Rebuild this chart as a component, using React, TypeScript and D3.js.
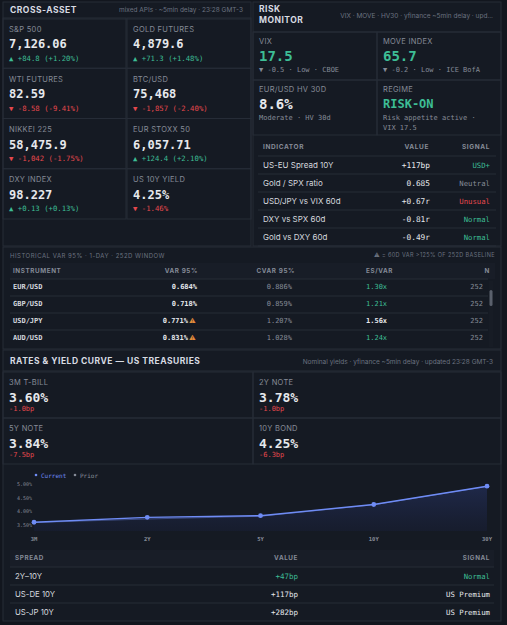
import React from "react";
import * as d3 from "d3";

const MONO = "'DejaVu Sans Mono', monospace";
const SANS = "Inter, 'Noto Sans', sans-serif";

const BG = "#12161e";
const CELL = "#151a23";
const LINE = "#262c37";
const WHITE = "#e6e8ec";
const GRAY = "#858b97";
const DIM = "#6b7280";
const GREEN = "#3dbd95";
const RED = "#e5484d";
const BLUE = "#6f8cf5";

// cross-asset tiles
const crossLabels = ["S&P 500", "GOLD FUTURES", "WTI FUTURES", "BTC/USD", "NIKKEI 225", "EUR STOXX 50", "DXY INDEX", "US 10Y YIELD"];
const crossValues = ["7,126.06", "4,879.6", "82.59", "75,468", "58,475.9", "6,057.71", "98.227", "4.25%"];
const crossChanges = ["+84.8 (+1.20%)", "+71.3 (+1.48%)", "-8.58 (-9.41%)", "-1,857 (-2.40%)", "-1,042 (-1.75%)", "+124.4 (+2.10%)", "+0.13 (+0.13%)", "-1.46%"];

// risk monitor tiles
const riskLabels = ["VIX", "MOVE INDEX", "EUR/USD HV 30D", "REGIME"];
const riskValues = ["17.5", "65.7", "8.6%", "RISK-ON"];
const riskSubs = [["▼ -0.5 · Low · CBOE"], ["▼ -0.2 · Low · ICE BofA"], ["Moderate · HV 30d"], ["Risk appetite active ·", "VIX 17.5"]];

// indicator table
const indNames = ["US-EU Spread 10Y", "Gold / SPX ratio", "USD/JPY vs VIX 60d", "DXY vs SPX 60d", "Gold vs DXY 60d"];
const indValues = ["+117bp", "0.685", "+0.67r", "-0.81r", "-0.49r"];
const indSignals = ["USD+", "Neutral", "Unusual", "Normal", "Normal"];

// VaR table
const varInstruments = ["EUR/USD", "GBP/USD", "USD/JPY", "AUD/USD"];
const varValues = ["0.684%", "0.718%", "0.771%", "0.831%"];
const varWarn = [false, false, true, true];
const cvarValues = ["0.886%", "0.859%", "1.207%", "1.028%"];
const esVar = ["1.30x", "1.21x", "1.56x", "1.24x"];
const varN = [252, 252, 252, 252];

// treasuries
const tsyLabels = ["3M T-BILL", "2Y NOTE", "5Y NOTE", "10Y BOND"];
const tsyValues = ["3.60%", "3.78%", "3.84%", "4.25%"];
const tsyChanges = ["-1.0bp", "-1.0bp", "-7.5bp", "-6.3bp"];

// yield curve
const tenors = ["3M", "2Y", "5Y", "10Y", "30Y"];
const curveCurrent = [3.6, 3.78, 3.84, 4.25, 4.92];
const curvePrior = [3.59, 3.72, 3.82, 4.24, 4.91];
const yTicks = [3.5, 4.0, 4.5, 5.0];

// spreads
const spreadNames = ["2Y–10Y", "US-DE 10Y", "US-JP 10Y"];
const spreadValues = ["+47bp", "+117bp", "+282bp"];
const spreadSignals = ["Normal", "US Premium", "US Premium"];

const signalColor = (s: string) =>
  s === "Unusual" ? RED : s === "Neutral" ? GRAY : s === "US Premium" ? WHITE : GREEN;

function T(props: any) {
  const { x, y, size = 8, color = WHITE, font = SANS, weight = 400, anchor = "start", ls = 0, children } = props;
  return (
    <text x={x} y={y} fontSize={size} fill={color} fontFamily={font} fontWeight={weight}
      textAnchor={anchor} dominantBaseline="central" letterSpacing={ls}>
      {children}
    </text>
  );
}

function App() {
  // tile grids
  const crossRow = d3.scaleLinear().domain([0, 4]).range([18, 219]);
  const riskRow = d3.scaleLinear().domain([0, 1]).range([32, 80]);
  const indRow = d3.scaleLinear().domain([0, 1]).range([165, 183]);
  const varRow = d3.scaleLinear().domain([0, 1]).range([287, 304]);
  const tsyRow = d3.scaleLinear().domain([0, 1]).range([372, 418]);
  const spreadRow = d3.scaleLinear().domain([0, 1]).range([576, 594]);

  const x = d3.scalePoint<string>().domain(tenors).range([34, 487]);
  const y = d3.scaleLinear().domain([3.5, 5.0]).range([525, 484]);
  const line = d3.line<number>().x((_, i) => x(tenors[i])!).y((d) => y(d));
  const area = d3.area<number>().x((_, i) => x(tenors[i])!).y0(531).y1((d) => y(d));

  return (
    <svg width={507} height={625} style={{ position: "absolute", left: 0, top: 0 }}>
      <defs>
        <linearGradient id="fill" x1="0" y1="0" x2="0" y2="1">
          <stop offset="0%" stopColor="#2b3a78" stopOpacity={0.45} />
          <stop offset="100%" stopColor="#1a2140" stopOpacity={0.35} />
        </linearGradient>
      </defs>
      <rect width={507} height={625} fill={BG} />

      {/* CROSS-ASSET */}
      <rect x={3} y={2} width={248} height={244} fill={CELL} stroke={LINE} />
      <T x={10} y={10} size={8.5} weight={700} ls={0.5} color="#d8dbe2">CROSS-ASSET</T>
      <T x={243} y={10} size={6.5} anchor="end" color={DIM}>mixed APIs · ~5min delay · 23:28 GMT-3</T>
      <line x1={3} x2={251} y1={19} y2={19} stroke={LINE} />
      {crossLabels.map((lab, i) => {
        const col = i % 2;
        const row = Math.floor(i / 2);
        const top = crossRow(row);
        const cx = col === 0 ? 9 : 133;
        const chg = crossChanges[i];
        const up = chg.startsWith("+");
        return (
          <g key={lab}>
            <rect x={col === 0 ? 3 : 127} y={top} width={col === 0 ? 123 : 124} height={crossRow(1) - crossRow(0)}
              fill="none" stroke={LINE} />
            <T x={cx} y={top + 11} size={7.5} color={GRAY} ls={0.3}>{lab}</T>
            <T x={cx} y={top + 26} size={12} font={MONO} weight={700}>{crossValues[i]}</T>
            <T x={cx} y={top + 40} size={7.3} font={MONO} color={up ? GREEN : RED}>
              {(up ? "▲ " : "▼ ") + chg}
            </T>
          </g>
        );
      })}

      {/* RISK MONITOR */}
      <rect x={253} y={2} width={248} height={244} fill={CELL} stroke={LINE} />
      <T x={259} y={9} size={8.5} weight={700} ls={0.5} color="#d8dbe2">RISK</T>
      <T x={259} y={20} size={8.5} weight={700} ls={0.5} color="#d8dbe2">MONITOR</T>
      <T x={493} y={16} size={6.5} anchor="end" color={DIM}>VIX · MOVE · HV30 · yfinance ~5min delay · upd...</T>
      <line x1={253} x2={501} y1={32} y2={32} stroke={LINE} />
      {riskLabels.map((lab, i) => {
        const col = i % 2;
        const top = riskRow(Math.floor(i / 2));
        const cx = col === 0 ? 259 : 383;
        const big = i === 2 ? WHITE : GREEN;
        return (
          <g key={lab}>
            <rect x={col === 0 ? 253 : 377} y={top} width={124}
              height={i < 2 ? 48 : 55} fill="none" stroke={LINE} />
            <T x={cx} y={top + 9} size={7.5} color={GRAY} ls={0.3}>{lab}</T>
            <T x={cx} y={top + 24} size={i === 3 ? 12 : 14} font={MONO} weight={700} color={big}>
              {riskValues[i]}
            </T>
            {riskSubs[i].map((s, j) => (
              <T key={j} x={cx} y={top + 38 + j * 10} size={7} font={MONO} color={GRAY}>{s}</T>
            ))}
          </g>
        );
      })}
      <T x={263} y={147} size={6.5} weight={700} ls={0.6} color={GRAY}>INDICATOR</T>
      <T x={429} y={147} size={6.5} weight={700} ls={0.6} color={GRAY} anchor="end">VALUE</T>
      <T x={490} y={147} size={6.5} weight={700} ls={0.6} color={GRAY} anchor="end">SIGNAL</T>
      <line x1={258} x2={496} y1={156} y2={156} stroke={LINE} />
      {indNames.map((n, i) => (
        <g key={n}>
          <T x={263} y={indRow(i)} size={8} color="#d4d7de">{n}</T>
          <T x={430} y={indRow(i)} size={7.8} font={MONO} anchor="end">{indValues[i]}</T>
          <T x={490} y={indRow(i)} size={7.3} font={MONO} anchor="end" color={signalColor(indSignals[i])}>
            {indSignals[i]}
          </T>
          <line x1={258} x2={496} y1={indRow(i) + 9} y2={indRow(i) + 9} stroke={LINE} />
        </g>
      ))}

      {/* HISTORICAL VAR */}
      <rect x={3} y={247} width={498} height={102} fill={CELL} stroke={LINE} />
      <T x={10} y={255} size={6} color={DIM} ls={0.5}>HISTORICAL VAR 95% · 1-DAY · 252D WINDOW</T>
      <T x={495} y={255} size={5.5} color={DIM} anchor="end" ls={0.4}>⚠ = 60D VAR &gt;125% OF 252D BASELINE</T>
      <rect x={10} y={263} width={485} height={16} fill="#181d27" />
      <T x={13} y={271} size={6.3} weight={700} ls={0.6} color={GRAY}>INSTRUMENT</T>
      <T x={198} y={271} size={6.3} weight={700} ls={0.6} color={GRAY} anchor="end">VAR 95%</T>
      <T x={295} y={271} size={6.3} weight={700} ls={0.6} color={GRAY} anchor="end">CVAR 95%</T>
      <T x={366} y={271} size={6.3} weight={700} ls={0.6} color={GRAY}>ES/VAR</T>
      <T x={490} y={271} size={6.3} weight={700} ls={0.6} color={GRAY} anchor="end">N</T>
      {varInstruments.map((n, i) => {
        const cy = varRow(i);
        const hot = esVar[i] === "1.56x";
        return (
          <g key={n}>
            <line x1={10} x2={488} y1={cy - 8} y2={cy - 8} stroke={LINE} />
            <T x={13} y={cy} size={7} font={MONO} weight={700} color="#d4d7de">{n}</T>
            <T x={varWarn[i] ? 188 : 197} y={cy} size={7} font={MONO} weight={700} anchor="end">{varValues[i]}</T>
            {varWarn[i] && <T x={189} y={cy} size={6.5} color="#e08a3c">⚠</T>}
            <T x={292} y={cy} size={7} font={MONO} anchor="end" color={GRAY}>{cvarValues[i]}</T>
            <T x={366} y={cy} size={7} font={MONO} weight={hot ? 700 : 400} color={hot ? WHITE : GREEN}>{esVar[i]}</T>
            <T x={483} y={cy} size={7} font={MONO} anchor="end" color={GRAY}>{varN[i]}</T>
          </g>
        );
      })}
      <rect x={489} y={281} width={4} height={66} fill="#171c25" />
      <rect x={489.5} y={290} width={3} height={16} rx={1.5} fill="#5a606c" />

      {/* RATES & YIELD CURVE */}
      <rect x={3} y={350} width={498} height={271} fill={CELL} stroke={LINE} />
      <T x={10} y={361} size={8.5} weight={700} ls={0.5} color="#d8dbe2">RATES &amp; YIELD CURVE — US TREASURIES</T>
      <T x={493} y={362} size={6.5} anchor="end" color={DIM}>Nominal yields · yfinance ~5min delay · updated 23:28 GMT-3</T>
      <line x1={3} x2={501} y1={371} y2={371} stroke={LINE} />
      {tsyLabels.map((lab, i) => {
        const col = i % 2;
        const top = tsyRow(Math.floor(i / 2));
        const cx = col === 0 ? 9 : 259;
        return (
          <g key={lab}>
            <rect x={col === 0 ? 3 : 253} y={top} width={col === 0 ? 250 : 248} height={46} fill="none" stroke={LINE} />
            <T x={cx} y={top + 10} size={7.5} color={GRAY} ls={0.3}>{lab}</T>
            <T x={cx} y={top + 25} size={13} font={MONO} weight={700}>{tsyValues[i]}</T>
            <T x={cx} y={top + 37} size={7} font={MONO} color={RED}>{tsyChanges[i]}</T>
          </g>
        );
      })}

      {/* yield curve chart */}
      <circle cx={36} cy={475} r={1.3} fill={BLUE} />
      <T x={41} y={475} size={6} font={MONO} color={BLUE}>Current</T>
      <circle cx={75} cy={475} r={1.3} fill={GRAY} />
      <T x={80} y={475} size={6} font={MONO} color={GRAY}>Prior</T>
      {yTicks.map((t) => (
        <T key={t} x={32} y={y(t)} size={5} font={MONO} color={GRAY} anchor="end">{t.toFixed(2) + "%"}</T>
      ))}
      {tenors.map((t) => (
        <T key={t} x={x(t)} y={539} size={5.5} font={MONO} weight={700} color={GRAY} anchor="middle">{t}</T>
      ))}
      <path d={area(curveCurrent) ?? ""} fill="url(#fill)" />
      <path d={line(curvePrior) ?? ""} fill="none" stroke="#3b4a80" strokeWidth={1} />
      <path d={line(curveCurrent) ?? ""} fill="none" stroke={BLUE} strokeWidth={1.4} />
      {curveCurrent.map((v, i) => (
        <circle key={i} cx={x(tenors[i])} cy={y(v)} r={2.4} fill={BLUE} />
      ))}

      {/* spread table */}
      <rect x={10} y={550} width={484} height={17} fill="#181d27" />
      <T x={15} y={558} size={6.3} weight={700} ls={0.6} color={GRAY}>SPREAD</T>
      <T x={298} y={558} size={6.3} weight={700} ls={0.6} color={GRAY} anchor="end">VALUE</T>
      <T x={490} y={558} size={6.3} weight={700} ls={0.6} color={GRAY} anchor="end">SIGNAL</T>
      {spreadNames.map((n, i) => {
        const cy = spreadRow(i);
        const first = i === 0;
        return (
          <g key={n}>
            <line x1={10} x2={494} y1={cy - 9} y2={cy - 9} stroke={LINE} />
            <T x={15} y={cy} size={7.8} color="#d4d7de">{n}</T>
            <T x={298} y={cy} size={7.5} font={MONO} anchor="end" color={first ? GREEN : WHITE}>{spreadValues[i]}</T>
            <T x={490} y={cy} size={7.3} font={MONO} anchor="end" color={signalColor(spreadSignals[i])}>{spreadSignals[i]}</T>
          </g>
        );
      })}
    </svg>
  );
}

export default App;
